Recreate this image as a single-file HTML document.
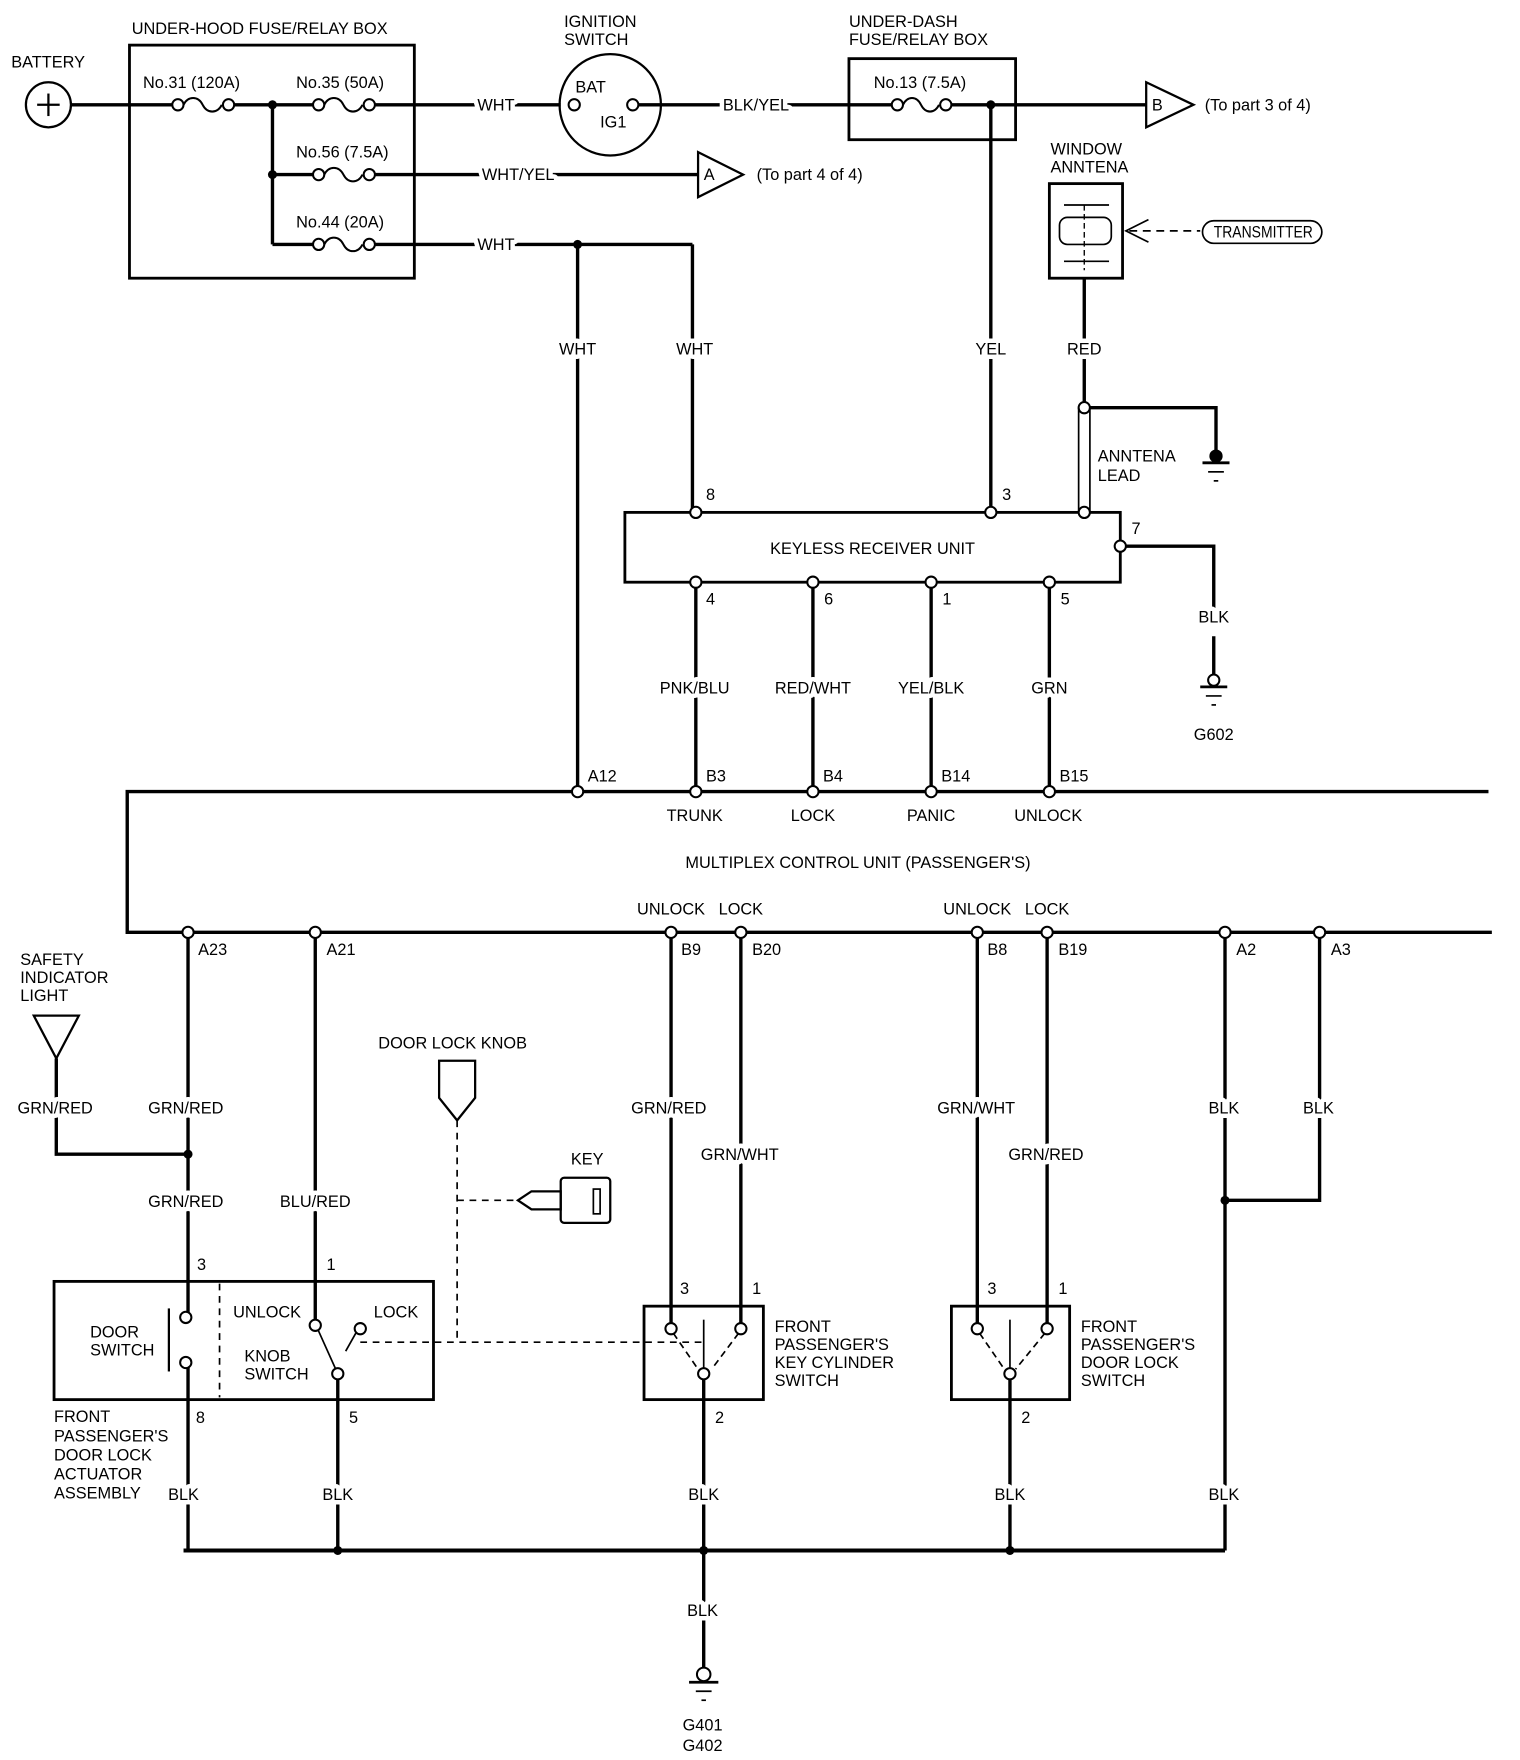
<!DOCTYPE html>
<html><head><meta charset="utf-8"><style>
html,body{margin:0;padding:0;background:#fff;}
svg{display:block;}
text{font-family:"Liberation Sans Narrow","Liberation Sans",sans-serif;font-size:14.5px;fill:#000;}
.l{paint-order:stroke;stroke:#fff;stroke-width:8px;stroke-linejoin:round;}
.c{text-anchor:middle;}
</style></head><body>
<svg width="1520" height="1760" viewBox="0 0 1350 1563" xmlns="http://www.w3.org/2000/svg">
<g fill="none" stroke="#000" stroke-width="3">
<circle cx="43" cy="93" r="20" stroke-width="2"/>
<line x1="33" y1="93" x2="53" y2="93" stroke-width="2"/><line x1="43" y1="83" x2="43" y2="103" stroke-width="2"/>
<rect x="115" y="40" width="253" height="207" stroke-width="2.5"/>
<line x1="63" y1="93" x2="155" y2="93"/>
<line x1="206" y1="93" x2="280" y2="93"/>
<line x1="242" y1="93" x2="242" y2="217"/>
<line x1="331" y1="93" x2="498" y2="93"/>
<line x1="242" y1="155" x2="280" y2="155"/>
<line x1="331" y1="155" x2="620" y2="155"/>
<line x1="242" y1="217" x2="280" y2="217"/>
<line x1="331" y1="217" x2="615" y2="217"/>
<line x1="615" y1="217" x2="615" y2="455"/>
<line x1="513" y1="217" x2="513" y2="703"/>
<circle cx="542" cy="93" r="45" stroke-width="2"/>
<line x1="566" y1="93" x2="795" y2="93"/>
<rect x="754" y="52" width="148" height="72" stroke-width="2.5"/>
<line x1="843" y1="93" x2="1018" y2="93"/>
<line x1="880" y1="93" x2="880" y2="455"/>
<g stroke-width="1.8">
<path d="M163,93 c4,-8 13,-8 17,0 c4,8 13,8 17,0"/>
<path d="M288,93 c4,-8 13,-8 17,0 c4,8 13,8 17,0"/>
<path d="M288,155 c4,-8 13,-8 17,0 c4,8 13,8 17,0"/>
<path d="M288,217 c4,-8 13,-8 17,0 c4,8 13,8 17,0"/>
<path d="M802,93 c4,-8 12,-8 16,0 c4,8 12,8 16,0"/>
</g>
<polygon points="620,135 660,155 620,175" stroke-width="2"/>
<polygon points="1018,73 1060,93 1018,113" stroke-width="2"/>
<rect x="932" y="163" width="65" height="84" stroke-width="2.5"/>
<line x1="945" y1="182" x2="985" y2="182" stroke-width="1.5"/>
<line x1="945" y1="232" x2="985" y2="232" stroke-width="1.5"/>
<rect x="941" y="193" width="46" height="24" rx="7" stroke-width="1.5"/>
<line x1="963" y1="182" x2="963" y2="240" stroke-width="1.2" stroke-dasharray="5,3"/>
<line x1="1003" y1="205" x2="1066" y2="205" stroke-width="1.5" stroke-dasharray="7,5"/>
<polyline points="1020,195 1000,205 1020,215" stroke-width="1.5"/>
<rect x="1068" y="196" width="106" height="20" rx="10" stroke-width="1.5"/>
<line x1="963" y1="247" x2="963" y2="362"/>
<line x1="958" y1="362" x2="958" y2="455" stroke-width="1.5"/>
<line x1="968" y1="362" x2="968" y2="455" stroke-width="1.5"/>
<polyline points="963,362 1080,362 1080,402"/>
<rect x="555" y="455" width="440" height="62" stroke-width="2.5"/>
<polyline points="995,485 1078,485 1078,540"/>
<line x1="1078" y1="565" x2="1078" y2="600"/>
<line x1="618" y1="517" x2="618" y2="703"/>
<line x1="722" y1="517" x2="722" y2="703"/>
<line x1="827" y1="517" x2="827" y2="703"/>
<line x1="932" y1="517" x2="932" y2="703"/>
<polyline points="1322,703 113,703 113,828 1325,828" stroke-width="3"/>
<line x1="167" y1="828" x2="167" y2="1170"/>
<line x1="167" y1="1210" x2="167" y2="1377"/>
<polyline points="50,940 50,1025 167,1025"/>
<polygon points="30,902 70,902 50,940" stroke-width="2"/>
<line x1="280" y1="828" x2="280" y2="1173"/>
<line x1="300" y1="1224" x2="300" y2="1377"/>
<rect x="48" y="1138" width="337" height="105" stroke-width="2.5"/>
<line x1="195" y1="1140" x2="195" y2="1241" stroke-width="1.5" stroke-dasharray="6,5"/>
<line x1="150" y1="1162" x2="150" y2="1218" stroke-width="2"/>
<line x1="596" y1="828" x2="596" y2="1176"/>
<line x1="658" y1="828" x2="658" y2="1176"/>
<rect x="572" y="1160" width="106" height="83" stroke-width="2.5"/>
<line x1="625" y1="1224" x2="625" y2="1484"/>
<line x1="868" y1="828" x2="868" y2="1176"/>
<line x1="930" y1="828" x2="930" y2="1176"/>
<rect x="845" y="1160" width="105" height="83" stroke-width="2.5"/>
<line x1="897" y1="1224" x2="897" y2="1377"/>
<line x1="1088" y1="828" x2="1088" y2="1377"/>
<polyline points="1172,828 1172,1066 1088,1066"/>
<line x1="163" y1="1377" x2="1088" y2="1377" stroke-width="3.5"/>
<polygon points="390,942 422,942 422,975 406,995 390,975" stroke-width="2"/>
<line x1="406" y1="995" x2="406" y2="1192" stroke-width="1.5" stroke-dasharray="6,5"/>
<line x1="320" y1="1192" x2="625" y2="1192" stroke-width="1.5" stroke-dasharray="6,5"/>
<line x1="406" y1="1066" x2="460" y2="1066" stroke-width="1.5" stroke-dasharray="6,5"/>
<polygon points="460,1066 472,1058 498,1058 498,1074 472,1074" stroke-width="2"/>
<rect x="498" y="1046" width="44" height="40" rx="3" stroke-width="2"/>
<rect x="527" y="1056" width="6" height="22" stroke-width="1.5"/>
<g stroke-width="1.5">
<line x1="282" y1="1180" x2="300" y2="1220"/>
<line x1="316" y1="1184" x2="307" y2="1200"/>
<line x1="598" y1="1184" x2="620" y2="1216" stroke-dasharray="6,4"/><line x1="656" y1="1184" x2="632" y2="1216" stroke-dasharray="6,4"/>
<line x1="625" y1="1172" x2="625" y2="1218"/>
<line x1="870" y1="1184" x2="892" y2="1216" stroke-dasharray="6,4"/><line x1="928" y1="1184" x2="902" y2="1216" stroke-dasharray="6,4"/>
<line x1="897" y1="1172" x2="897" y2="1218"/>
</g>
</g>
<g fill="#fff" stroke="#000" stroke-width="1.8">
<circle cx="158" cy="93" r="5"/><circle cx="203" cy="93" r="5"/>
<circle cx="283" cy="93" r="5"/><circle cx="328" cy="93" r="5"/>
<circle cx="283" cy="155" r="5"/><circle cx="328" cy="155" r="5"/>
<circle cx="283" cy="217" r="5"/><circle cx="328" cy="217" r="5"/>
<circle cx="797" cy="93" r="5"/><circle cx="840" cy="93" r="5"/>
<circle cx="510" cy="93" r="5"/><circle cx="562" cy="93" r="5"/>
<circle cx="618" cy="455" r="5"/><circle cx="880" cy="455" r="5"/><circle cx="963" cy="455" r="5"/><circle cx="963" cy="362" r="5"/>
<circle cx="995" cy="485" r="5"/>
<circle cx="618" cy="517" r="5"/><circle cx="722" cy="517" r="5"/><circle cx="827" cy="517" r="5"/><circle cx="932" cy="517" r="5"/>
<circle cx="513" cy="703" r="5"/><circle cx="618" cy="703" r="5"/><circle cx="722" cy="703" r="5"/><circle cx="827" cy="703" r="5"/><circle cx="932" cy="703" r="5"/>
<circle cx="167" cy="828" r="5"/><circle cx="280" cy="828" r="5"/><circle cx="596" cy="828" r="5"/><circle cx="658" cy="828" r="5"/>
<circle cx="868" cy="828" r="5"/><circle cx="930" cy="828" r="5"/><circle cx="1088" cy="828" r="5"/><circle cx="1172" cy="828" r="5"/>
<circle cx="165" cy="1170" r="5"/><circle cx="165" cy="1210" r="5"/>
<circle cx="280" cy="1177" r="5"/><circle cx="320" cy="1180" r="5"/><circle cx="300" cy="1220" r="5"/>
<circle cx="596" cy="1180" r="5"/><circle cx="658" cy="1180" r="5"/><circle cx="625" cy="1220" r="5"/>
<circle cx="868" cy="1180" r="5"/><circle cx="930" cy="1180" r="5"/><circle cx="897" cy="1220" r="5"/>
<circle cx="1078" cy="604" r="5"/><circle cx="1080" cy="405" r="5" fill="#000"/><circle cx="625" cy="1487" r="6"/>
</g>
<g stroke="#000" stroke-width="2.5">
<line x1="1066" y1="610" x2="1090" y2="610"/><line x1="1071" y1="618" x2="1085" y2="618" stroke-width="1.5"/><line x1="1076" y1="626" x2="1080" y2="626" stroke-width="1.5"/>
<line x1="1068" y1="411" x2="1092" y2="411"/><line x1="1073" y1="419" x2="1087" y2="419" stroke-width="1.5"/><line x1="1078" y1="427" x2="1082" y2="427" stroke-width="1.5"/>
<line x1="612" y1="1494" x2="638" y2="1494"/><line x1="618" y1="1502" x2="632" y2="1502" stroke-width="1.5"/><line x1="623" y1="1510" x2="627" y2="1510" stroke-width="1.5"/>
</g>
<g fill="#000">
<circle cx="242" cy="93" r="4"/><circle cx="242" cy="155" r="4"/><circle cx="513" cy="217" r="4"/><circle cx="880" cy="93" r="4"/>
<circle cx="167" cy="1025" r="4"/><circle cx="1088" cy="1066" r="4"/>
<circle cx="300" cy="1377" r="4"/><circle cx="625" cy="1377" r="4"/><circle cx="897" cy="1377" r="4"/>
</g>
<text x="10" y="60">BATTERY</text>
<text x="117" y="30">UNDER-HOOD FUSE/RELAY BOX</text>
<text x="127" y="78">No.31 (120A)</text>
<text x="263" y="78">No.35 (50A)</text>
<text x="263" y="140">No.56 (7.5A)</text>
<text x="263" y="202">No.44 (20A)</text>
<text class="l" x="424" y="98">WHT</text>
<text class="l" x="428" y="160">WHT/YEL</text>
<text class="l" x="424" y="222">WHT</text>
<text x="501" y="24">IGNITION</text><text x="501" y="40">SWITCH</text>
<text x="511" y="82">BAT</text><text x="533" y="113">IG1</text>
<text class="l" x="642" y="98">BLK/YEL</text>
<text x="754" y="24">UNDER-DASH</text><text x="754" y="40">FUSE/RELAY BOX</text>
<text x="776" y="78">No.13 (7.5A)</text>
<text x="625" y="160" font-size="11">A</text>
<text x="1023" y="98" font-size="11">B</text>
<text x="672" y="160">(To part 4 of 4)</text>
<text x="1070" y="98">(To part 3 of 4)</text>
<text x="933" y="137">WINDOW</text><text x="933" y="153">ANNTENA</text>
<text x="1078" y="211" font-size="12.5" textLength="88" lengthAdjust="spacingAndGlyphs">TRANSMITTER</text>
<text class="l c" x="513" y="315">WHT</text>
<text class="l c" x="617" y="315">WHT</text>
<text class="l c" x="880" y="315">YEL</text>
<text class="l c" x="963" y="315">RED</text>
<text x="975" y="410">ANNTENA</text><text x="975" y="427">LEAD</text>
<text x="627" y="444">8</text><text x="890" y="444">3</text><text x="1005" y="474">7</text>
<text class="c" x="775" y="492">KEYLESS RECEIVER UNIT</text>
<text x="627" y="537">4</text><text x="732" y="537">6</text><text x="837" y="537">1</text><text x="942" y="537">5</text>
<text class="l c" x="617" y="616">PNK/BLU</text>
<text class="l c" x="722" y="616">RED/WHT</text>
<text class="l c" x="827" y="616">YEL/BLK</text>
<text class="l c" x="932" y="616">GRN</text>
<text class="l c" x="1078" y="553">BLK</text>
<text class="c" x="1078" y="657">G602</text>
<text x="522" y="694">A12</text><text x="627" y="694">B3</text><text x="731" y="694">B4</text><text x="836" y="694">B14</text><text x="941" y="694">B15</text>
<text class="c" x="617" y="729">TRUNK</text><text class="c" x="722" y="729">LOCK</text><text class="c" x="827" y="729">PANIC</text><text class="c" x="931" y="729">UNLOCK</text>
<text class="c" x="762" y="771">MULTIPLEX CONTROL UNIT (PASSENGER'S)</text>
<text class="c" x="596" y="812">UNLOCK</text><text class="c" x="658" y="812">LOCK</text>
<text class="c" x="868" y="812">UNLOCK</text><text class="c" x="930" y="812">LOCK</text>
<text x="176" y="848">A23</text><text x="290" y="848">A21</text><text x="605" y="848">B9</text><text x="668" y="848">B20</text>
<text x="877" y="848">B8</text><text x="940" y="848">B19</text><text x="1098" y="848">A2</text><text x="1182" y="848">A3</text>
<text x="18" y="857">SAFETY</text><text x="18" y="873">INDICATOR</text><text x="18" y="889">LIGHT</text>
<text x="336" y="931">DOOR LOCK KNOB</text>
<text x="507" y="1034">KEY</text>
<text class="l c" x="49" y="989">GRN/RED</text>
<text class="l c" x="165" y="989">GRN/RED</text>
<text class="l c" x="165" y="1072">GRN/RED</text>
<text class="l c" x="280" y="1072">BLU/RED</text>
<text class="l c" x="594" y="989">GRN/RED</text>
<text class="l c" x="657" y="1030">GRN/WHT</text>
<text class="l c" x="867" y="989">GRN/WHT</text>
<text class="l c" x="929" y="1030">GRN/RED</text>
<text class="l c" x="1087" y="989">BLK</text>
<text class="l c" x="1171" y="989">BLK</text>
<text x="175" y="1128">3</text><text x="290" y="1128">1</text>
<text x="604" y="1149">3</text><text x="668" y="1149">1</text>
<text x="877" y="1149">3</text><text x="940" y="1149">1</text>
<text x="80" y="1188">DOOR</text><text x="80" y="1204">SWITCH</text>
<text x="207" y="1170">UNLOCK</text><text x="332" y="1170">LOCK</text>
<text x="217" y="1209">KNOB</text><text x="217" y="1225">SWITCH</text>
<text x="688" y="1183">FRONT</text><text x="688" y="1199">PASSENGER'S</text><text x="688" y="1215">KEY CYLINDER</text><text x="688" y="1231">SWITCH</text>
<text x="960" y="1183">FRONT</text><text x="960" y="1199">PASSENGER'S</text><text x="960" y="1215">DOOR LOCK</text><text x="960" y="1231">SWITCH</text>
<text x="174" y="1264">8</text><text x="310" y="1264">5</text><text x="635" y="1264">2</text><text x="907" y="1264">2</text>
<text x="48" y="1263">FRONT</text><text x="48" y="1280">PASSENGER'S</text><text x="48" y="1297">DOOR LOCK</text><text x="48" y="1314">ACTUATOR</text><text x="48" y="1331">ASSEMBLY</text>
<text class="l c" x="163" y="1332">BLK</text>
<text class="l c" x="300" y="1332">BLK</text>
<text class="l c" x="625" y="1332">BLK</text>
<text class="l c" x="897" y="1332">BLK</text>
<text class="l c" x="1087" y="1332">BLK</text>
<text class="l c" x="624" y="1435">BLK</text>
<text class="c" x="624" y="1537">G401</text><text class="c" x="624" y="1555">G402</text>
</svg>
</body></html>
